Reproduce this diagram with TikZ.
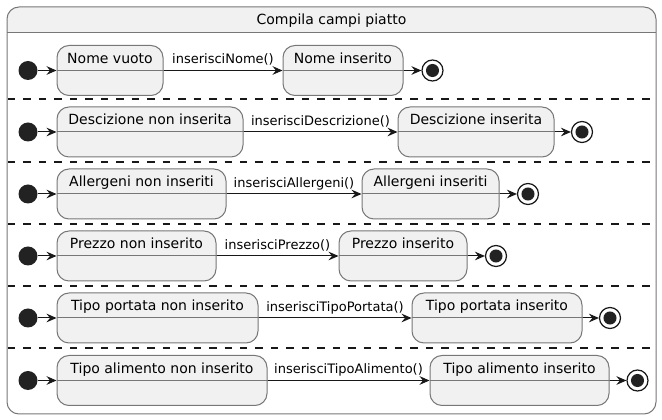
\documentclass[tikz,border=0pt]{standalone}
\usepackage{fontspec}
\setmainfont{DejaVu Sans}
\usetikzlibrary{arrows.meta}
\definecolor{stfill}{HTML}{F1F1F1}
\definecolor{stline}{HTML}{777777}
\definecolor{ink}{HTML}{181818}
\definecolor{dot}{HTML}{222222}
\tikzset{
  stbox/.style={draw=stline, fill=stfill, line width=0.75pt, rounded corners=9pt,
    inner sep=0pt, minimum width=#1*0.75pt, text height=13.5pt, text depth=24pt,
    font=\fontsize{10.5pt}{12pt}\selectfont, anchor=center},
  initst/.style={circle, fill=dot, draw=none, minimum size=19*0.75pt, inner sep=0pt},
  finst/.style={circle, draw=ink, fill=white, line width=0.9pt, minimum size=21*0.75pt, inner sep=0pt,
    path picture={\fill[dot] (path picture bounding box.center) circle (4.9pt);}},
  arr/.style={draw=ink, line width=0.75pt, -{Stealth[length=7.5pt, width=6.5pt, inset=2.6pt]}},
  lbl/.style={anchor=base, yshift=4.9pt, inner sep=0pt, font=\fontsize{9.75pt}{11pt}\selectfont, text=black},
  sepline/.style={draw=ink, line width=0.9pt, dash pattern=on 5.6pt off 6pt},
  splitline/.style={draw=stline, line width=0.75pt},
}
\begin{document}
\begin{tikzpicture}[x=0.75pt,y=-0.75pt]
\useasboundingbox (0,0) rectangle (662,420);
% outer composite state
\fill[stfill] (7,33) [rounded corners=9pt]-- (7,7) -- (656,7) [sharp corners]-- (656,33) -- cycle;
\draw[stline, line width=0.75pt, rounded corners=9pt] (7,7) rectangle (656,414);
\draw[stline, line width=0.75pt] (7,33) -- (656,33);
\node[font=\fontsize{10.5pt}{12pt}\selectfont] (title) at (331.5,20.5) {Compila campi piatto};
% separators
\foreach \yy in {99,162,224,286,348} { \draw[sepline] (8,\yy) -- (655,\yy); }
% rows: name, y, a-cx, a-w, a-text, b-cx, b-w, b-text, final-x, label
\foreach \r/\yy/\ax/\aw/\at/\bx/\bw/\bt/\fx/\lb in {
  1/70.5/110/106/Nome vuoto/343/120/Nome inserito/432.5/inserisciNome(),
  2/132/150/186/Descizione non inserita/476/156/Descizione inserita/582/inserisciDescrizione(),
  3/194/141.5/169/Allergeni non inseriti/430.5/137/Allergeni inseriti/528/inserisciAllergeni(),
  4/256/136.5/159/Prezzo non inserito/403/128/Prezzo inserito/496/inserisciPrezzo(),
  5/318/157.5/201/Tipo portata non inserito/497/170/Tipo portata inserito/610/inserisciTipoPortata(),
  6/380.5/162/210/Tipo alimento non inserito/519.5/179/Tipo alimento inserito/637.5/inserisciTipoAlimento()} {
  \node[initst] (i\r) at (28,\yy) {};
  \node[stbox=\aw] (a\r) at (\ax,\yy) {\at};
  \node[stbox=\bw] (b\r) at (\bx,\yy) {\bt};
  \node[finst] (f\r) at (\fx,\yy) {};
  \draw[splitline] (a\r.west) -- (a\r.east);
  \draw[splitline] (b\r.west) -- (b\r.east);
  \draw[arr] (i\r) -- (a\r.west);
  \draw[arr] (a\r.east) -- node[lbl] (l\r) {\lb} (b\r.west);
  \draw[arr] (b\r.east) -- (f\r);
}
\end{tikzpicture}
\end{document}
